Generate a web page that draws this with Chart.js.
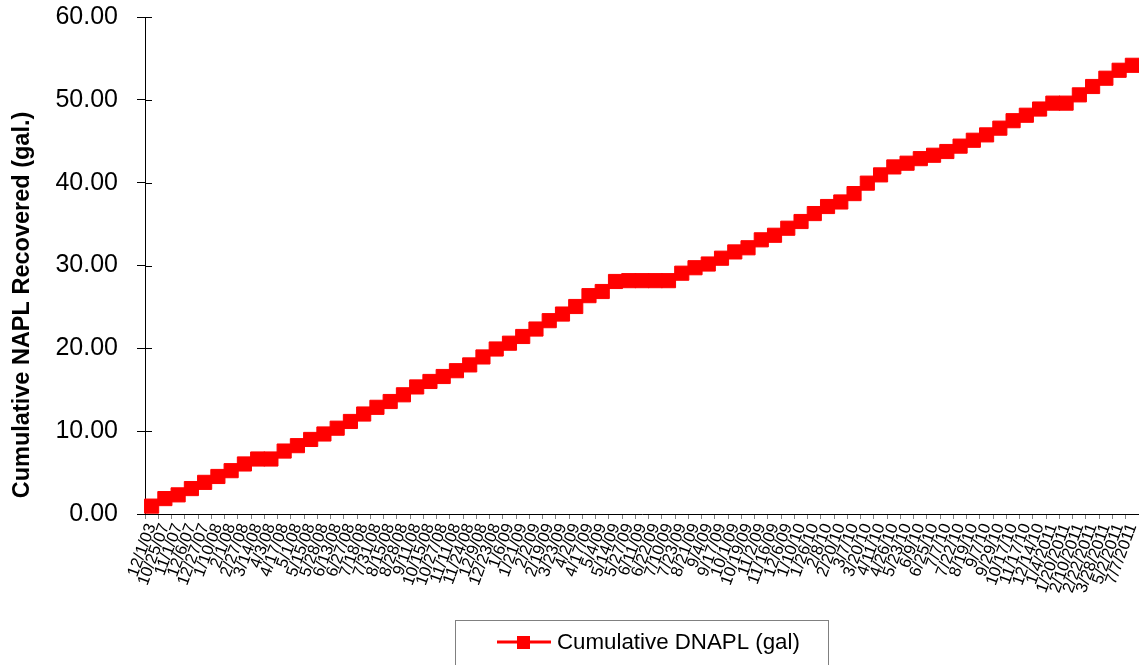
<!DOCTYPE html>
<html>
<head>
<meta charset="utf-8">
<script src="https://cdn.jsdelivr.net/npm/chart.js@4/dist/chart.umd.min.js"></script>
<style>
  html, body { margin: 0; padding: 0; background: #fff; }
  #wrap { width: 1139px; height: 665px; position: relative; }
</style>
</head>
<body>
<div id="wrap"><canvas id="c" width="1139" height="665"></canvas></div>
<script>
// Sampling dates (category axis)
const sampleDates = [
  '12/1/03', '10/25/07', '11/1/07', '12/6/07', '12/27/07', '1/10/08', '2/1/08', '2/27/08', '3/14/08', '4/3/08',
  '4/17/08', '5/1/08', '5/15/08', '5/28/08', '6/13/08', '6/27/08', '7/18/08', '7/31/08', '8/15/08', '8/28/08',
  '9/11/08', '10/15/08', '10/27/08', '11/11/08', '11/24/08', '12/9/08', '12/23/08', '1/6/09', '1/21/09', '2/2/09',
  '2/19/09', '3/23/09', '4/2/09', '4/17/09', '5/4/09', '5/14/09', '5/27/09', '6/11/09', '6/22/09', '7/10/09',
  '7/23/09', '8/21/09', '9/4/09', '9/17/09', '10/1/09', '10/19/09', '11/2/09', '11/16/09', '12/6/09', '1/10/10',
  '1/26/10', '2/8/10', '2/20/10', '3/7/10', '3/20/10', '4/11/10', '4/26/10', '5/23/10', '6/9/10', '6/25/10',
  '7/7/10', '7/22/10', '8/19/10', '9/7/10', '9/29/10', '10/17/10', '11/17/10', '12/14/10', '1/4/2011', '1/20/2011',
  '2/10/2011', '2/22/2011', '3/28/2011', '5/2/2011', '7/7/2011'
];

// Cumulative DNAPL recovered, gallons
const cumulativeDnapl = [
  0.95, 1.86, 2.31, 3.07, 3.82, 4.53, 5.23, 6.04, 6.64, 6.64,
  7.6, 8.25, 9.0, 9.66, 10.36, 11.17, 12.07, 12.88, 13.58, 14.39,
  15.34, 16.0, 16.6, 17.3, 18.0, 18.96, 19.92, 20.62, 21.43, 22.33,
  23.34, 24.14, 25.05, 26.36, 26.86, 28.07, 28.17, 28.17, 28.17, 28.17,
  29.07, 29.73, 30.18, 30.88, 31.64, 32.14, 33.1, 33.65, 34.5, 35.31,
  36.27, 37.12, 37.67, 38.68, 39.94, 40.94, 41.9, 42.35, 42.9, 43.31,
  43.76, 44.41, 45.12, 45.77, 46.58, 47.48, 48.14, 48.89, 49.6, 49.6,
  50.6, 51.61, 52.61, 53.57, 54.17
];

// Value axis ticks
const yTicks = [0, 10, 20, 30, 40, 50, 60];

const seriesName = 'Cumulative DNAPL (gal)';
const yTitle = 'Cumulative NAPL Recovered (gal.)';
const FONT = '"Liberation Sans", Arial, sans-serif';

// Vertical axis title, placed beside the value axis
const yTitlePlugin = {
  id: 'yTitlePlugin',
  afterDraw(chart) {
    const ctx = chart.ctx;
    ctx.save();
    ctx.translate(23, 305);
    ctx.rotate(-Math.PI / 2);
    ctx.font = 'bold 23.5px ' + FONT;
    ctx.fillStyle = '#000';
    ctx.textAlign = 'center';
    ctx.textBaseline = 'middle';
    ctx.fillText(yTitle, 0, 0);
    ctx.restore();
  }
};

// Inner halves of the value-axis tick marks (they cross the axis line)
const crossTicksPlugin = {
  id: 'crossTicks',
  afterDraw(chart) {
    const y = chart.scales.y;
    const ctx = chart.ctx;
    ctx.save();
    ctx.strokeStyle = '#000';
    ctx.lineWidth = 1;
    y.ticks.forEach(t => {
      const py = Math.round(y.getPixelForValue(t.value)) + 0.5;
      ctx.beginPath();
      ctx.moveTo(y.right, py);
      ctx.lineTo(y.right + 7, py);
      ctx.stroke();
    });
    ctx.restore();
  }
};

// Boxed legend with a line-and-marker key
const boxLegendPlugin = {
  id: 'boxLegend',
  afterDraw(chart) {
    const ds = chart.data.datasets[0];
    const ctx = chart.ctx;
    ctx.save();
    ctx.strokeStyle = '#808080';
    ctx.lineWidth = 1;
    ctx.strokeRect(455.5, 620.5, 373, 60);
    const cy = 642;
    ctx.strokeStyle = ds.borderColor;
    ctx.lineWidth = 3;
    ctx.beginPath();
    ctx.moveTo(497, cy);
    ctx.lineTo(551, cy);
    ctx.stroke();
    ctx.fillStyle = ds.pointBackgroundColor;
    ctx.fillRect(517, cy - 6, 13, 13);
    ctx.font = '22.3px ' + FONT;
    ctx.fillStyle = '#000';
    ctx.textAlign = 'left';
    ctx.textBaseline = 'middle';
    ctx.fillText(ds.label, 557, cy + 1);
    ctx.restore();
  }
};

new Chart(document.getElementById('c'), {
  type: 'line',
  data: {
    labels: sampleDates,
    datasets: [{
      label: seriesName,
      data: cumulativeDnapl,
      borderColor: '#ff0000',
      backgroundColor: '#ff0000',
      borderWidth: 3,
      pointStyle: 'rect',
      pointRadius: 10,
      pointBorderWidth: 1,
      pointBackgroundColor: '#ff0000',
      pointBorderColor: '#ff0000',
      tension: 0,
      fill: false
    }]
  },
  options: {
    responsive: false,
    animation: false,
    devicePixelRatio: 1,
    layout: { autoPadding: false, padding: { top: 17, right: 0, left: 0, bottom: 0 } },
    plugins: {
      legend: { display: false },
      tooltip: { enabled: false }
    },
    scales: {
      x: {
        type: 'category',
        offset: true,
        afterFit(scale) {
          scale.height = 151;
          scale.paddingLeft = 0;
          scale.paddingRight = 0;
        },
        border: { display: true, color: '#000', width: 1 },
        grid: {
          display: true,
          offset: true,
          drawOnChartArea: false,
          drawTicks: true,
          tickLength: 5,
          color: '#808080'
        },
        ticks: {
          autoSkip: false,
          minRotation: 70,
          maxRotation: 70,
          padding: 2,
          color: '#000',
          font: { family: FONT, size: 16.5 }
        }
      },
      y: {
        min: yTicks[0],
        max: yTicks[yTicks.length - 1],
        afterFit(scale) {
          scale.width = 145;
          scale.paddingTop = 0;
          scale.paddingBottom = 0;
        },
        afterBuildTicks(scale) { scale.ticks = yTicks.map(v => ({ value: v })); },
        border: { display: true, color: '#000', width: 1 },
        grid: {
          display: true,
          drawOnChartArea: false,
          drawTicks: true,
          tickLength: 8,
          color: '#000'
        },
        ticks: {
          padding: 19,
          color: '#000',
          font: { family: FONT, size: 25 },
          callback: v => Number(v).toFixed(2)
        }
      }
    }
  },
  plugins: [yTitlePlugin, crossTicksPlugin, boxLegendPlugin]
});
</script>
</body>
</html>
